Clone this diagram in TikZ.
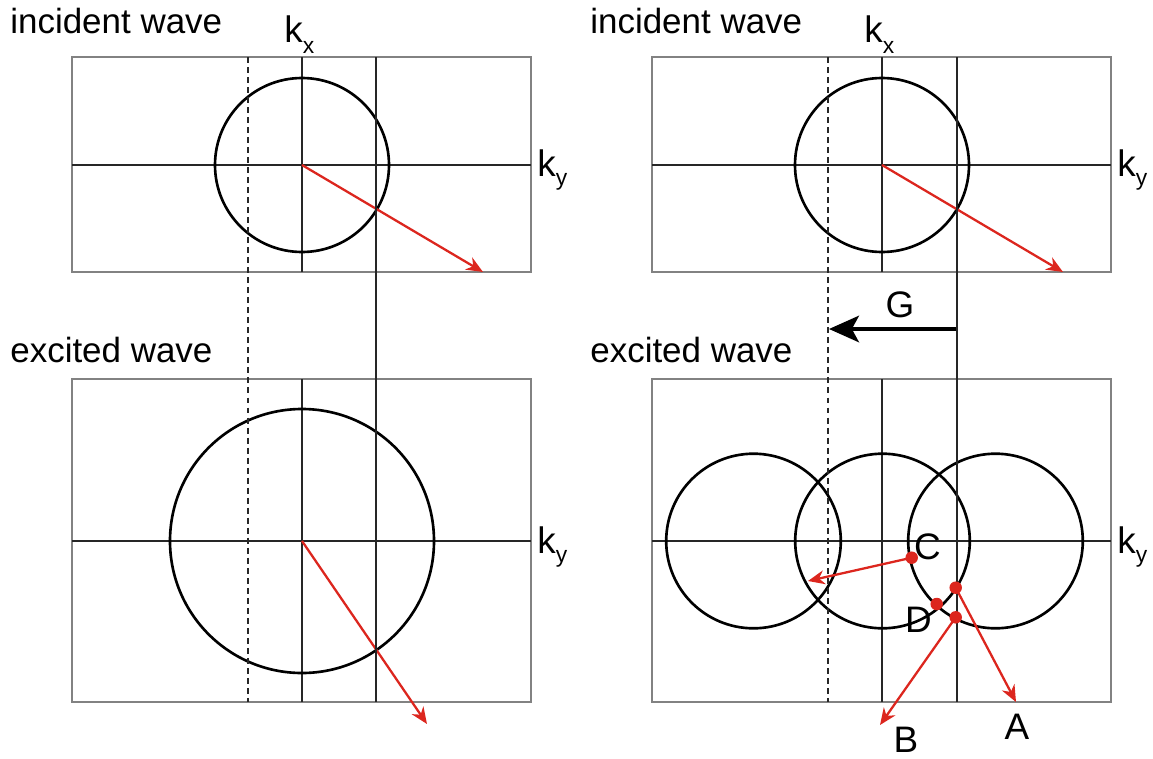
\documentclass[tikz,border=0pt]{standalone}
\usepackage{fontspec}
\setmainfont{Liberation Sans}
\usetikzlibrary{arrows.meta}

\definecolor{wavered}{RGB}{220,38,30}
\definecolor{framegray}{RGB}{130,130,130}

% k with a lowered small index
\newcommand{\kvec}[2]{k\raisebox{#2}{\fontsize{13}{15}\selectfont #1}}

\tikzset{
    panelframe/.style={draw=framegray, line width=0.8pt},
    kaxis/.style={draw=black!85, line width=0.6pt},
    zone/.style={draw=black!85, line width=0.6pt, dash pattern=on 3.4pt off 2.3pt},
    fermi/.style={draw=black, line width=1.5pt},
    wavevec/.style={draw=wavered, line width=1.3pt, -{Stealth[length=9.5pt, width=8pt]}},
    gshift/.style={draw=black, line width=2.4pt, -{Stealth[length=17pt, width=15pt, inset=4pt]}},
    spot/.style={circle, fill=wavered, inner sep=0pt, minimum size=0.25cm},
    paneltitle/.style={font=\fontsize{19.9}{24}\selectfont, anchor=base west, inner sep=0pt},
    kname/.style={font=\fontsize{21}{25}\selectfont, anchor=base west, inner sep=0pt},
    pointname/.style={font=\fontsize{21}{25}\selectfont, anchor=base, inner sep=0pt}
}

\begin{document}
\begin{tikzpicture}[x=0.02cm, y=-0.02cm]
    \useasboundingbox (0,0) rectangle (1153,758);

    % Left column, incident wave
    \node[paneltitle] (incL) at (10,33) {incident wave};
    \draw[panelframe] (72,57) rectangle (531,272);
    \coordinate (oTL) at (302,165);
    \draw[kaxis] (72,165) -- (531,165);
    \draw[kaxis] (302,57) -- (302,272);
    \draw[fermi] (oTL) circle (87);
    \node[kname] (kxL) at (284,42) {\kvec{x}{-0.3em}};
    \node[kname] (kyTL) at (537,176) {\kvec{y}{-0.26em}};
    \coordinate (tipTL) at (483,272);
    \draw[wavevec] (oTL) -- (tipTL);

    % Left column, excited wave
    \node[paneltitle] (excL) at (10,362) {excited wave};
    \draw[panelframe] (72,379) rectangle (531,702);
    \coordinate (oBL) at (302,541);
    \draw[kaxis] (72,541) -- (531,541);
    \draw[kaxis] (302,379) -- (302,702);
    \draw[fermi] (oBL) circle (132);
    \node[kname] (kyBL) at (537,553) {\kvec{y}{-0.26em}};
    \coordinate (tipBL) at (427,724);
    \draw[wavevec] (oBL) -- (tipBL);

    % Left column, zone lines
    \draw[zone] (248,57) -- (248,702);
    \draw[kaxis] (376,57) -- (376,702);

    % Right column, incident wave
    \node[paneltitle] (incR) at (590,33) {incident wave};
    \draw[panelframe] (652,57) rectangle (1111,272);
    \coordinate (oTR) at (882,165);
    \draw[kaxis] (652,165) -- (1111,165);
    \draw[kaxis] (882,57) -- (882,272);
    \draw[fermi] (oTR) circle (87);
    \node[kname] (kxR) at (864,42) {\kvec{x}{-0.3em}};
    \node[kname] (kyTR) at (1117,176) {\kvec{y}{-0.26em}};
    \coordinate (tipTR) at (1063,272);
    \draw[wavevec] (oTR) -- (tipTR);

    % Right column, shift G
    \coordinate (gfrom) at (957,329);
    \coordinate (gto) at (829,329);
    \draw[gshift] (gfrom) -- (gto);
    \node[pointname] (gname) at (900,317) {G};

    % Right column, excited wave
    \node[paneltitle] (excR) at (590,362) {excited wave};
    \draw[panelframe] (652,379) rectangle (1111,702);
    \draw[kaxis] (652,541) -- (1111,541);
    \draw[kaxis] (882,379) -- (882,702);
    \draw[fermi] (753.5,541) circle (87.3);
    \draw[fermi] (882.5,541) circle (87.3);
    \draw[fermi] (995.5,541) circle (87.3);
    \node[kname] (kyBR) at (1117,553) {\kvec{y}{-0.26em}};

    % Right column, zone lines
    \draw[zone] (828,57) -- (828,702);
    \draw[kaxis] (957,57) -- (957,702);

    % Excited points and their wave vectors
    \node[spot] (ptC) at (911.7,557.7) {};
    \node[spot] (ptA) at (955.7,587.7) {};
    \node[spot] (ptD) at (936.7,604) {};
    \node[spot] (ptB) at (955.7,617.3) {};
    \coordinate (tipC) at (808,581);
    \coordinate (tipA) at (1016,702);
    \coordinate (tipB) at (880,725);
    \draw[wavevec] (ptC.center) -- (tipC);
    \draw[wavevec] (ptA.center) -- (tipA);
    \draw[wavevec] (ptB.center) -- (tipB);
    \node[pointname] (nameC) at (927.5,559) {C};
    \node[pointname] (nameD) at (918.5,632) {D};
    \node[pointname] (nameA) at (1017,739) {A};
    \node[pointname] (nameB) at (906,752) {B};
\end{tikzpicture}
\end{document}
